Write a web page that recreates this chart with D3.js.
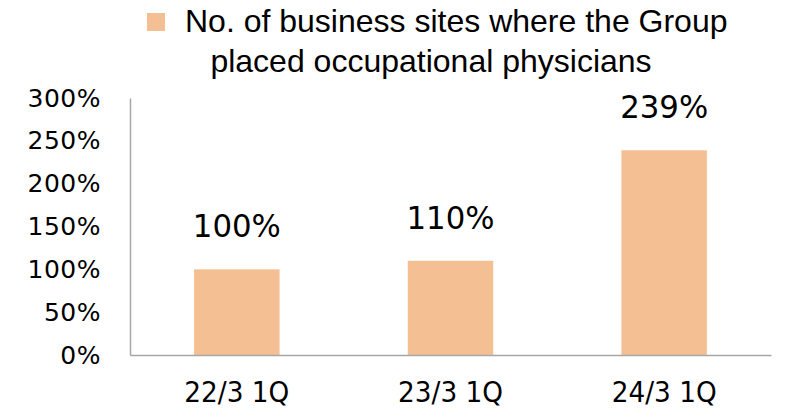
<!DOCTYPE html>
<html>
<head>
<meta charset="utf-8">
<script src="https://cdn.jsdelivr.net/npm/d3@7"></script>
<style>
  body { margin: 0; background: #fff; }
  svg { display: block; }
</style>
</head>
<body>
<svg id="chart"></svg>
<script>
// chart data
const categories = ['22/3 1Q', '23/3 1Q', '24/3 1Q'];
const values = [100, 110, 239];
const yTicks = [0, 50, 100, 150, 200, 250, 300];
const legendLines = ['No. of business sites where the Group', 'placed occupational physicians'];

const w = 791;
const h = 418;
const plotLeft = 130, plotRight = 771, plotTop = 98, plotBottom = 355;
const barColor = '#F4C093';
const axisFont = 'DejaVu Sans, Verdana, sans-serif';
const legendFont = 'Liberation Sans, Arial, sans-serif';

const svg = d3.select('#chart')
    .attr('width', w)
    .attr('height', h);

const xScale = d3.scaleBand()
    .domain(categories)
    .range([plotLeft, plotRight])
    .paddingInner(0.6)
    .paddingOuter(0.3);

const yScale = d3.scaleLinear()
    .domain([0, 300])
    .range([plotBottom, plotTop]);

// bars
svg.selectAll('rect.bar')
    .data(values)
    .enter()
    .append('rect')
    .attr('class', 'bar')
    .attr('x', (d, i) => xScale(categories[i]))
    .attr('y', d => yScale(d))
    .attr('width', xScale.bandwidth())
    .attr('height', d => plotBottom - yScale(d))
    .attr('fill', barColor);

// value labels above bars
svg.selectAll('text.val')
    .data(values)
    .enter()
    .append('text')
    .attr('class', 'val')
    .attr('x', (d, i) => xScale(categories[i]) + xScale.bandwidth() / 2)
    .attr('y', d => yScale(d) - 32)
    .attr('text-anchor', 'middle')
    .style('font-family', axisFont)
    .style('font-size', '32px')
    .attr('textLength', 88)
    .attr('lengthAdjust', 'spacingAndGlyphs')
    .text(d => d + '%');

// y axis
const yAxis = d3.axisLeft(yScale)
    .tickValues(yTicks)
    .tickSize(0)
    .tickPadding(29)
    .tickFormat(d => d + '%');

const gy = svg.append('g')
    .attr('transform', 'translate(' + plotLeft + ',0)')
    .call(yAxis);
gy.select('.domain').attr('stroke', '#a6a6a6').attr('stroke-width', 1.5);
gy.selectAll('text')
    .style('font-family', axisFont)
    .style('font-size', '25px')
    .style('letter-spacing', '0.5px')
    .attr('fill', '#000');

// x axis
const xAxis = d3.axisBottom(xScale).tickSize(0).tickPadding(27);
const gx = svg.append('g')
    .attr('transform', 'translate(0,' + plotBottom + ')')
    .call(xAxis);
gx.select('.domain').attr('stroke', '#a6a6a6').attr('stroke-width', 1.5);
gx.selectAll('text')
    .style('font-family', axisFont)
    .style('font-size', '28px')
    .attr('textLength', 105)
    .attr('lengthAdjust', 'spacingAndGlyphs')
    .attr('fill', '#000');

// legend
svg.append('rect')
    .attr('x', 147)
    .attr('y', 13)
    .attr('width', 18)
    .attr('height', 18)
    .attr('fill', barColor);

svg.append('text')
    .attr('x', 185)
    .attr('y', 32)
    .style('font-family', legendFont)
    .style('font-size', '32px')
    .text(legendLines[0]);

svg.append('text')
    .attr('x', 431)
    .attr('y', 72)
    .attr('text-anchor', 'middle')
    .style('font-family', legendFont)
    .style('font-size', '32px')
    .text(legendLines[1]);
</script>
</body>
</html>
